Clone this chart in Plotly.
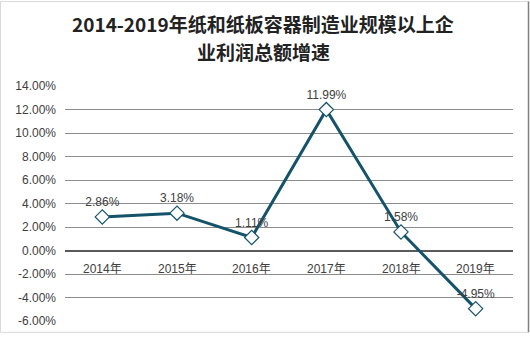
import plotly.graph_objects as go

years = ["2014年", "2015年", "2016年", "2017年", "2018年", "2019年"]
growth = [2.86, 3.18, 1.11, 11.99, 1.58, -4.95]
y_ticks = [-6, -4, -2, 0, 2, 4, 6, 8, 10, 12, 14]
title_lines = ["2014-2019年纸和纸板容器制造业规模以上企", "业利润总额增速"]

W, H = 530, 340
L, R, T, B = 65, 17, 86, 16
pw, ph = W - L - R, H - T - B

line_color = "#14536A"
txt_color = "#404040"

fig = go.Figure()
fig.add_trace(go.Scatter(
    x=list(range(len(years))), y=growth,
    mode="lines+markers+text",
    line=dict(color=line_color, width=3),
    marker=dict(symbol="diamond", size=11, color="white",
                line=dict(color=line_color, width=1.2)),
    text=[f"{v:.2f}%" for v in growth],
    textposition="top center",
    textfont=dict(family="Liberation Sans, Arial", size=12, color=txt_color),
    cliponaxis=False,
    hoverinfo="skip",
))

for i, yr in enumerate(years):
    fig.add_annotation(x=i, y=0, xref="x", yref="y", text=yr, showarrow=False,
                       yshift=-18, font=dict(family="Liberation Sans, Noto Sans CJK SC", size=12, color=txt_color))

# title lines
for k, (line, ypix) in enumerate(zip(title_lines, [23, 51])):
    fig.add_annotation(xref="paper", yref="paper",
                       x=(W / 2 - 2 - L) / pw, y=1 + (T - ypix) / ph,
                       text=f"<b>{line}</b>", showarrow=False,
                       xanchor="center", yanchor="middle",
                       font=dict(family="Noto Sans CJK SC", size=19, color="#222222"))

# outer border
fig.add_shape(type="rect", xref="paper", yref="paper",
              x0=(0.5 - L) / pw, x1=(W - 1.5 - L) / pw,
              y0=-(B - 4.5) / ph, y1=1 + (T - 0.5) / ph,
              line=dict(color="#D9D9D9", width=1))
fig.add_shape(type="line", xref="paper", yref="paper",
              x0=(W - 1.5 - L) / pw, x1=(W - 1.5 - L) / pw,
              y0=-(B - 4.5) / ph, y1=1 + (T - 0.5) / ph,
              line=dict(color="#808080", width=1.5))

fig.update_layout(
    width=W, height=H,
    margin=dict(l=L, r=R, t=T, b=B),
    paper_bgcolor="white", plot_bgcolor="white",
    showlegend=False,
    xaxis=dict(range=[-0.5, len(years) - 0.5], showticklabels=False, showgrid=False,
               zeroline=False, showline=False, ticks=""),
    yaxis=dict(range=[-6, 14], tickvals=y_ticks,
               ticktext=[f"{v:.2f}%" for v in y_ticks],
               tickfont=dict(family="Liberation Sans, Arial", size=12, color=txt_color),
               showgrid=True, gridcolor="#8C8C8C", gridwidth=1,
               zeroline=True, zerolinecolor="#595959", zerolinewidth=1.5,
               showline=False, ticks="", ticklabelstandoff=8),
)

fig.write_html("out.html")
